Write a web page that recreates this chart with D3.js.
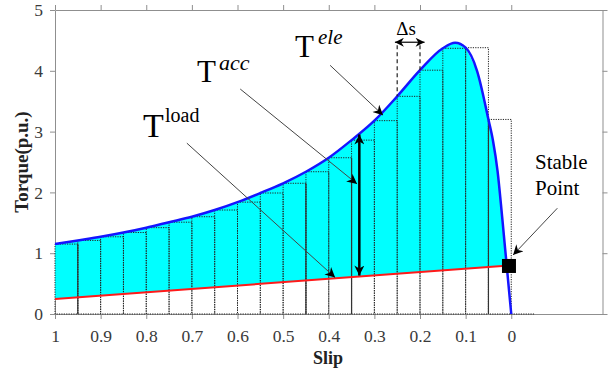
<!DOCTYPE html>
<html><head><meta charset="utf-8">
<script src="https://cdn.jsdelivr.net/npm/d3@7"></script>
<style>
body{margin:0;background:#fff}
svg{display:block}
</style>
</head><body>
<svg id="c" width="611" height="373"></svg>
<script>
// ---- data ----
const slip       = [1, 0.95, 0.9, 0.85, 0.8, 0.75, 0.7, 0.65, 0.6, 0.55, 0.5, 0.45, 0.4, 0.35, 0.3, 0.25, 0.2, 0.15, 0.123, 0.1, 0.075, 0.05, 0.04, 0.03, 0.02, 0.01, 0];
const torqueEle  = [1.15, 1.21, 1.27, 1.34, 1.42, 1.51, 1.60, 1.71, 1.84, 1.99, 2.15, 2.34, 2.57, 2.86, 3.18, 3.58, 4.01, 4.37, 4.46, 4.38, 4.00, 3.20, 2.85, 2.35, 1.60, 0.80, 0];
const loadSlip   = [1, 0.02];
const loadTorque = [0.245, 0.79];
const barSlips   = [1, 0.95, 0.9, 0.85, 0.8, 0.75, 0.7, 0.65, 0.6, 0.55, 0.5, 0.45, 0.4, 0.35, 0.3, 0.25, 0.2, 0.15, 0.1, 0.05, 0];
const solidEdges = [0.95, 0.45, 0.35, 0.05];
const deltaS     = 0.05;
const xTickValues = [1, 0.9, 0.8, 0.7, 0.6, 0.5, 0.4, 0.3, 0.2, 0.1, 0];
const xTickLabels = ["1", "0.9", "0.8", "0.7", "0.6", "0.5", "0.4", "0.3", "0.2", "0.1", "0"];
const yTickValues = [0, 1, 2, 3, 4, 5];
const yTickLabels = ["0", "1", "2", "3", "4", "5"];
const stablePoint = {s: 0.005, t: 0.79};
const accSlip = 0.333;

const SERIF = '"Liberation Serif", "Times New Roman", Times, serif';

// ---- scales ----
const x = d3.scaleLinear().domain([1, -0.2]).range([55, 602.5]);
const y = d3.scaleLinear().domain([0, 5]).range([314, 10]);
const loadAt = d3.scaleLinear().domain(loadSlip).range(loadTorque);
const eleAt = s => {
  for (let i = 0; i < slip.length - 1; i++) {
    if (s <= slip[i] && s >= slip[i + 1]) {
      const f = (slip[i] - s) / (slip[i] - slip[i + 1]);
      return torqueEle[i] + f * (torqueEle[i + 1] - torqueEle[i]);
    }
  }
  return 0;
};

const svg = d3.select("#c").attr("font-family", SERIF);
const axisColor = "#8f8f8f";
const labelColor = "#3a3a3a";

// ---- axes / frame ----
function styleAxis(g, showLabels) {
  g.attr("font-family", SERIF).attr("font-size", 17);
  g.select(".domain").attr("stroke", axisColor);
  g.selectAll(".tick line").attr("stroke", axisColor);
  g.selectAll(".tick text").attr("fill", labelColor).attr("font-family", SERIF)
    .style("font-family", SERIF).style("font-size", "17.5px");
  if (!showLabels) g.selectAll(".tick text").remove();
}
const xb = svg.append("g").attr("transform", `translate(0,${y(0)})`)
  .call(d3.axisBottom(x).tickValues(xTickValues).tickSize(5).tickPadding(11).tickSizeOuter(0)
    .tickFormat((d, i) => xTickLabels[i]));
styleAxis(xb, true);
const xt = svg.append("g").attr("transform", `translate(0,${y(5)})`)
  .call(d3.axisTop(x).tickValues(xTickValues).tickSize(5).tickSizeOuter(0));
styleAxis(xt, false);
const yl = svg.append("g").attr("transform", `translate(${x(1)},0)`)
  .call(d3.axisLeft(y).tickValues(yTickValues).tickSize(5).tickPadding(7).tickSizeOuter(0)
    .tickFormat((d, i) => yTickLabels[i]));
styleAxis(yl, true);
const yr = svg.append("g").attr("transform", `translate(${x(-0.2)},0)`)
  .call(d3.axisRight(y).tickValues(yTickValues).tickSize(5).tickSizeOuter(0));
styleAxis(yr, false);

// ---- cyan accelerating area ----
let sInt = 0;
for (let i = 0; i < slip.length - 1; i++) {
  const d0 = torqueEle[i] - loadAt(slip[i]), d1 = torqueEle[i + 1] - loadAt(slip[i + 1]);
  if (slip[i] < 0.5 && d0 >= 0 && d1 < 0) {
    const f = d0 / (d0 - d1);
    sInt = slip[i] + f * (slip[i + 1] - slip[i]);
  }
}
const areaPts = slip.filter(s => s > sInt).concat([sInt]);
svg.append("path")
  .attr("d", d3.area().x(s => x(s)).y0(s => y(loadAt(s))).y1(s => y(s === sInt ? loadAt(s) : eleAt(s)))(areaPts))
  .attr("fill", "#00ffff");

// ---- step bars (dotted) ----
const bars = svg.append("g");
barSlips.forEach(s => {
  const h = eleAt(s);
  if (h > 0) {
    bars.append("rect")
      .attr("x", x(s)).attr("y", y(h))
      .attr("width", x(s - deltaS) - x(s)).attr("height", y(0) - y(h))
      .attr("fill", "none").attr("stroke", "#222").attr("stroke-width", 1)
      .attr("stroke-dasharray", "1.2,1.2");
  } else {
    bars.append("line").attr("x1", x(s)).attr("x2", x(s - deltaS)).attr("y1", y(0)).attr("y2", y(0))
      .attr("stroke", "#222").attr("stroke-width", 1).attr("stroke-dasharray", "1.2,1.2");
  }
});
solidEdges.forEach(s => {
  const h = Math.min(eleAt(s), eleAt(s + deltaS));
  bars.append("line").attr("x1", x(s)).attr("x2", x(s)).attr("y1", y(0)).attr("y2", y(h))
    .attr("stroke", "#333").attr("stroke-width", 1.2);
});

// ---- curves ----
svg.append("path")
  .attr("d", d3.line().x((d, i) => x(slip[i])).y((d, i) => y(torqueEle[i])).curve(d3.curveMonotoneX)(torqueEle))
  .attr("fill", "none").attr("stroke", "#1515ff").attr("stroke-width", 2.5);
svg.append("path")
  .attr("d", d3.line().x((d, i) => x(loadSlip[i])).y(d => y(d))(loadTorque))
  .attr("fill", "none").attr("stroke", "#ff1a1a").attr("stroke-width", 2);

// ---- markers ----
const defs = svg.append("defs");
function mk(id, w, h) {
  defs.append("marker").attr("id", id).attr("viewBox", "0 0 10 10")
    .attr("refX", 10).attr("refY", 5).attr("markerUnits", "userSpaceOnUse")
    .attr("markerWidth", w).attr("markerHeight", h).attr("orient", "auto-start-reverse")
    .append("path").attr("d", "M0,0 L10,5 L0,10 L3,5 Z").attr("fill", "#000");
}
mk("ah", 12, 10);
mk("ahs", 10, 9);

// ---- Δs dashed guides and arrow ----
const dsY = 4.47;
[0.25, 0.2].forEach(s => {
  svg.append("line").attr("x1", x(s)).attr("x2", x(s)).attr("y1", y(dsY) + 3).attr("y2", y(eleAt(s)))
    .attr("stroke", "#222").attr("stroke-width", 1.2).attr("stroke-dasharray", "4,3");
});
svg.append("line").attr("x1", x(0.255)).attr("x2", x(0.19)).attr("y1", y(dsY)).attr("y2", y(dsY))
  .attr("stroke", "#000").attr("stroke-width", 1.2)
  .attr("marker-start", "url(#ahs)").attr("marker-end", "url(#ahs)");

// ---- annotation arrows ----
function arrow(s1, t1, s2, t2) {
  svg.append("line").attr("x1", x(s1)).attr("y1", y(t1)).attr("x2", x(s2)).attr("y2", y(t2))
    .attr("stroke", "#444").attr("stroke-width", 1).attr("marker-end", "url(#ah)");
}
arrow(0.397, 4.09, 0.281, 3.27);   // T ele
arrow(0.594, 3.70, 0.338, 2.14);   // T acc
arrow(0.711, 2.81, 0.386, 0.60);   // T load
arrow(-0.101, 1.74, -0.004, 0.97); // stable point

// vertical accelerating torque arrow
svg.append("line").attr("x1", x(accSlip)).attr("x2", x(accSlip))
  .attr("y1", y(loadAt(accSlip)) - 1).attr("y2", y(eleAt(accSlip)) + 1)
  .attr("stroke", "#000").attr("stroke-width", 2.5)
  .attr("marker-start", "url(#ah)").attr("marker-end", "url(#ah)");

// stable point square
svg.append("rect").attr("x", x(stablePoint.s) - 7).attr("y", y(stablePoint.t) - 7)
  .attr("width", 14).attr("height", 14).attr("fill", "#000");

// ---- texts ----
function txt(str, px, py, size, opts = {}) {
  return svg.append("text").attr("x", px).attr("y", py).text(str)
    .attr("font-family", SERIF).style("font-family", SERIF)
    .style("font-size", size + "px")
    .style("font-style", opts.italic ? "italic" : "normal")
    .style("font-weight", opts.bold ? "bold" : "normal")
    .attr("text-anchor", opts.anchor || "start")
    .attr("fill", opts.fill || "#000");
}
txt("T", 143, 137, 34);
txt("load", 165, 122, 20);
txt("T", 197, 82, 31);
txt("acc", 219, 70, 22, {italic: true});
txt("T", 295, 57, 31);
txt("ele", 318, 44, 21, {italic: true});
txt("Δs", 406, 35, 19, {anchor: "middle"});
txt("Stable", 535, 169, 21);
txt("Point", 535, 195, 21);
txt("Slip", 328, 364, 18, {bold: true, anchor: "middle", fill: "#222"});
svg.append("text").attr("transform", "translate(27.5,162) rotate(-90)")
  .attr("text-anchor", "middle").attr("font-family", SERIF).style("font-family", SERIF)
  .style("font-size", "19px").style("font-weight", "bold")
  .attr("fill", "#222").text("Torque(p.u.)");
</script>
</body></html>
